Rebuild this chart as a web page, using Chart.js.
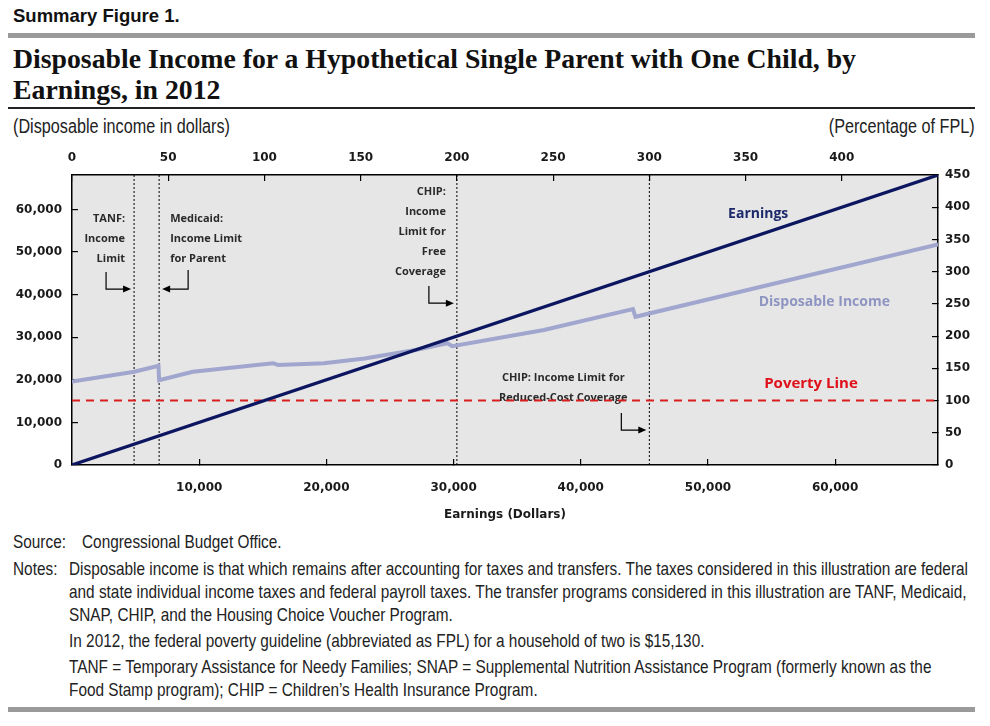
<!DOCTYPE html>
<html>
<head>
<meta charset="utf-8">
<script src="https://cdn.jsdelivr.net/npm/chart.js@4.4.1/dist/chart.umd.min.js"></script>
<style>
  body { margin: 0; background: #fff; width: 990px; height: 726px; position: relative; overflow: hidden; }
  .abs { position: absolute; white-space: nowrap; transform-origin: left top; }
  .kicker { left: 13px; top: 5px; font: bold 18.5px "Liberation Sans", Arial, sans-serif; color: #111; }
  .rule-grey { left: 8px; width: 967px; height: 5px; background: #9a9a9a; }
  .title { left: 13px; font: bold 28px/31px "Liberation Serif", serif; color: #111; }
  .rule-black { left: 8px; top: 107px; width: 967px; height: 1.5px; background: #222; }
  .narrow { font-family: "Liberation Sans", Arial, sans-serif; color: #222; font-size: 18.5px; line-height: 23px; }
  #wrap { position: absolute; left: 0; top: 135px; width: 990px; height: 395px; }
</style>
</head>
<body>
<div class="abs kicker">Summary Figure 1.</div>
<div class="abs rule-grey" style="top:33px"></div>
<div class="abs title" id="title1" style="top:43px">Disposable Income for a Hypothetical Single Parent with One Child, by</div>
<div class="abs title" style="top:74px">Earnings, in 2012</div>
<div class="abs rule-black"></div>
<div class="abs narrow" style="left:13px; top:115px; font-size:19.5px">(Disposable income in dollars)</div>
<div class="abs narrow" id="pctUnit" style="right:15px; top:115px; font-size:19.5px; transform-origin:right top">(Percentage of FPL)</div>

<div id="wrap"><canvas id="chart" width="990" height="395"></canvas></div>

<div class="abs narrow" style="left:13px; top:530px">Source:</div>
<div class="abs narrow" style="left:82px; top:530px">Congressional Budget Office.</div>
<div class="abs narrow" style="left:13px; top:557px">Notes:</div>
<div class="abs narrow" id="note1" style="left:69px; top:557px">Disposable income is that which remains after accounting for taxes and transfers. The taxes considered in this illustration are federal</div>
<div class="abs narrow" style="left:69px; top:580px">and state individual income taxes and federal payroll taxes. The transfer programs considered in this illustration are TANF, Medicaid,</div>
<div class="abs narrow" style="left:69px; top:603px">SNAP, CHIP, and the Housing Choice Voucher Program.</div>
<div class="abs narrow" style="left:69px; top:629px">In 2012, the federal poverty guideline (abbreviated as FPL) for a household of two is $15,130.</div>
<div class="abs narrow" style="left:69px; top:655px">TANF = Temporary Assistance for Needy Families; SNAP = Supplemental Nutrition Assistance Program (formerly known as the</div>
<div class="abs narrow" style="left:69px; top:678px">Food Stamp program); CHIP = Children’s Health Insurance Program.</div>
<div class="abs rule-grey" style="top:707px"></div>

<script>
// сжимаем узкий шрифт под ширину оригинала
(function() {
    const r = 899 / document.getElementById('note1').getBoundingClientRect().width;
    document.querySelectorAll('.narrow').forEach(el => { el.style.transform = `scaleX(${r})`; });
    const t = document.getElementById('title1');
    const rt = 843 / t.getBoundingClientRect().width;
    document.querySelectorAll('.title').forEach(el => { el.style.transform = `scaleX(${rt})`; });
})();

// Порог бедности и пределы осей (450% FPL)
const fpl = 15130;
const axisMax = 68085;
const pctMax = 450;

// Линия заработка
const earningsX = [0, 68085];
const earningsY = [0, 68085];

// Располагаемый доход
const dispX = [0, 4900, 6800, 6850, 9500, 15800, 16200, 19800, 23000, 27000, 29500, 29900, 37100, 44100, 44300, 68085];
const dispY = [19600, 21900, 23300, 19900, 21900, 23900, 23500, 23900, 25000, 27000, 28600, 27900, 31700, 36600, 34800, 51800];

// Вертикальные пределы программ
const limitNames = ["TANF", "Medicaid", "CHIP free", "CHIP reduced"];
const limitValues = [4880, 6850, 30260, 45390];

// Подписи делений
const leftTicks = [0, 10000, 20000, 30000, 40000, 50000, 60000];
const bottomTicks = [10000, 20000, 30000, 40000, 50000, 60000];
const topTicks = [0, 50, 100, 150, 200, 250, 300, 350, 400];
const rightTicks = [0, 50, 100, 150, 200, 250, 300, 350, 400, 450];

const toPoints = (xs, ys) => xs.map((x, i) => ({ x: x, y: ys[i] }));
const fmt = v => v.toLocaleString('en-US');

const tickFont = { family: 'DejaVu Sans', weight: 'bold', size: 12 };
const annFont = '700 11px "Open Sans", sans-serif';

function axisCommon(list, pad, fitKey, fitVal) {
    return {
        type: 'linear',
        afterBuildTicks: s => { s.ticks = list.map(v => ({ value: v })); },
        afterFit: s => { s[fitKey] = fitVal; },
        grid: { drawOnChartArea: false, tickLength: -6, color: '#000', lineWidth: 1.2 },
        border: { display: true, color: '#000', width: 1.5 },
        ticks: { font: tickFont, color: '#1a1a1a', padding: pad, callback: v => fmt(v) }
    };
}

const limitSets = limitValues.map((v, i) => ({
    label: limitNames[i],
    data: [{ x: v, y: 0 }, { x: v, y: axisMax }],
    borderColor: '#000', borderWidth: 1, borderDash: [2, 2],
    showLine: true, pointRadius: 0
}));

// Фон области графика и подписи (позиции по вертикали - в долларах)
const decor = {
    id: 'decor',
    beforeDraw(chart) {
        const a = chart.chartArea, c = chart.ctx;
        c.save();
        c.fillStyle = '#e6e6e6';
        c.fillRect(a.left, a.top, a.right - a.left, a.bottom - a.top);
        c.restore();
    },
    beforeDatasetsDraw(chart) {
        const c = chart.ctx, xs = chart.scales.x, ys = chart.scales.y;
        const py = v => ys.getPixelForValue(v);
        const lx = i => xs.getPixelForValue(limitValues[i]);
        c.save();
        c.font = annFont;
        c.fillStyle = '#2a2a2a';
        c.textBaseline = 'middle';
        const rows = (lines, x, y0, align) => {
            c.textAlign = align;
            lines.forEach((t, k) => c.fillText(t, x, py(y0) + k * 20));
        };
        rows(['TANF:', 'Income', 'Limit'], lx(0) - 9, 57750, 'right');
        rows(['Medicaid:', 'Income Limit', 'for Parent'], lx(1) + 11, 57750, 'left');
        rows(['CHIP:', 'Income', 'Limit for', 'Free', 'Coverage'], lx(2) - 11, 64100, 'right');
        rows(['CHIP: Income Limit for', 'Reduced-Cost Coverage'], lx(3) - 86, 20400, 'center');

        // стрелки
        const arrow = (xLine, fromV, toV, dir) => {
            const tip = xLine + (dir > 0 ? -3 : 3);
            const x0 = xLine + (dir > 0 ? -28 : 29);
            const y0 = py(fromV), y1 = py(toV);
            c.strokeStyle = '#000'; c.lineWidth = 1.2;
            c.beginPath(); c.moveTo(x0, y0); c.lineTo(x0, y1); c.lineTo(tip - dir * 6, y1); c.stroke();
            c.fillStyle = '#000';
            c.beginPath(); c.moveTo(tip, y1); c.lineTo(tip - dir * 8, y1 - 3.5); c.lineTo(tip - dir * 8, y1 + 3.5); c.closePath(); c.fill();
        };
        arrow(lx(0), 45300, 41300, 1);
        arrow(lx(1), 45800, 41300, -1);
        arrow(lx(2), 42000, 38000, 1);
        arrow(lx(3), 12200, 8200, 1);
        c.restore();
    },
    afterDatasetsDraw(chart) {
        const c = chart.ctx, xs = chart.scales.x, ys = chart.scales.y;
        c.save();
        c.textAlign = 'center'; c.textBaseline = 'middle';
        c.font = '700 14px "Open Sans", sans-serif';
        c.fillStyle = '#1c2a6b';
        c.fillText('Earnings', xs.getPixelForValue(53950), ys.getPixelForValue(59000));
        c.fillStyle = '#8f95c2';
        c.fillText('Disposable Income', xs.getPixelForValue(59150), ys.getPixelForValue(38300));
        c.font = '700 15px "Open Sans", sans-serif';
        c.fillStyle = '#e0101a';
        c.fillText('Poverty Line', xs.getPixelForValue(58100), ys.getPixelForValue(19050));
        c.restore();
    }
};

new Chart(document.getElementById('chart'), {
    type: 'scatter',
    data: {
        datasets: [
            { label: 'Earnings', data: toPoints(earningsX, earningsY), borderColor: '#0c1660', borderWidth: 3.2, showLine: true, pointRadius: 0 },
            { label: 'Disposable Income', data: toPoints(dispX, dispY), borderColor: '#a1a6cf', borderWidth: 4, showLine: true, pointRadius: 0 },
            { label: 'Poverty Line', data: [{ x: 0, y: fpl }, { x: axisMax, y: fpl }], borderColor: '#d81e1e', borderWidth: 2, borderDash: [8, 6], showLine: true, pointRadius: 0 },
            ...limitSets
        ]
    },
    options: {
        responsive: false,
        animation: false,
        layout: { padding: 0 },
        plugins: { legend: { display: false }, tooltip: { enabled: false } },
        scales: {
            x: Object.assign(axisCommon(bottomTicks, 22, 'height', 65), {
                position: 'bottom', min: 0, max: axisMax,
                title: { display: true, text: 'Earnings (Dollars)', font: tickFont, color: '#1a1a1a', padding: { top: 0, bottom: 8 } }
            }),
            x2: Object.assign(axisCommon(topTicks, 16, 'height', 40), { position: 'top', min: 0, max: pctMax }),
            y: Object.assign(axisCommon(leftTicks, 16, 'width', 72), { position: 'left', min: 0, max: axisMax }),
            y2: Object.assign(axisCommon(rightTicks, 13, 'width', 52), { position: 'right', min: 0, max: pctMax })
        }
    },
    plugins: [decor]
});
</script>
</body>
</html>
